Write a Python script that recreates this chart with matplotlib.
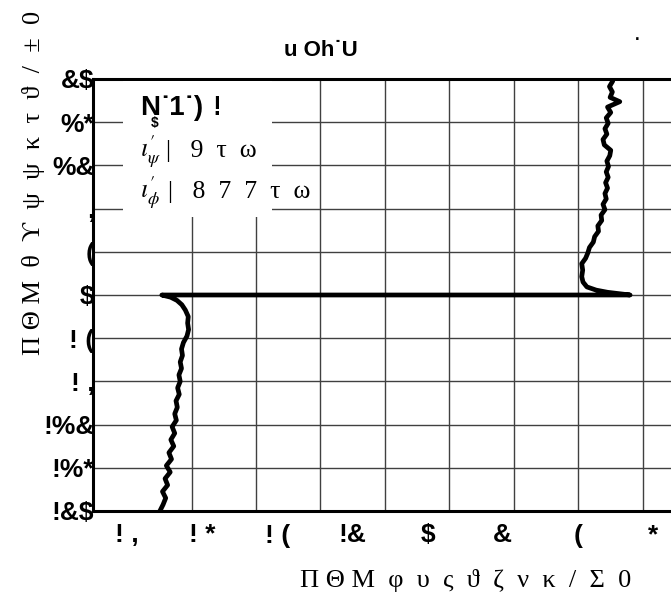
import matplotlib
matplotlib.use("Agg")
import matplotlib.pyplot as plt
from matplotlib.patches import Rectangle

W, H = 671, 595

# curve: left branch from the bottom up to y=0, then right branch from y=0 up to the top
left_y = [-20.0, -19.4, -18.8, -18.2, -17.6, -17.0, -16.4, -15.8, -15.2, -14.6,
          -14.0, -13.4, -12.8, -12.2, -11.6, -11.0, -10.4, -9.8, -9.2, -8.6,
          -8.0, -7.4, -6.8, -6.2, -5.6, -5.0, -4.4, -3.8, -3.2, -2.6,
          -2.0, -1.4, -0.9, -0.5, -0.2, 0.0]
left_x = [-6.98, -6.88, -6.80, -6.90, -6.74, -6.82, -6.66, -6.78, -6.62, -6.70,
          -6.55, -6.64, -6.52, -6.60, -6.47, -6.52, -6.44, -6.48, -6.38, -6.43,
          -6.35, -6.39, -6.31, -6.35, -6.28, -6.31, -6.25, -6.14, -6.09, -6.12,
          -6.10, -6.19, -6.30, -6.45, -6.65, -6.92]
right_y = [0.0, 0.25, 0.45, 0.75, 1.2, 1.7, 2.3, 2.9, 3.4, 3.9,
           4.4, 4.9, 5.4, 5.9, 6.4, 6.9, 7.4, 7.9, 8.4, 8.9,
           9.4, 9.9, 10.4, 10.9, 11.4, 11.9, 12.4, 12.9, 13.4, 13.9,
           14.4, 14.9, 15.4, 15.9, 16.4, 16.9, 17.4, 17.9, 18.3, 18.8,
           19.3, 19.8, 20.0]
right_x = [7.60, 6.90, 6.55, 6.26, 6.14, 6.10, 6.13, 6.10, 6.22, 6.29,
           6.34, 6.46, 6.50, 6.62, 6.60, 6.72, 6.70, 6.82, 6.76, 6.86,
           6.82, 6.90, 6.84, 6.92, 6.86, 6.93, 6.88, 6.97, 7.00, 6.80,
           6.76, 6.88, 6.82, 6.92, 6.86, 7.00, 6.90, 7.28, 6.98, 7.05,
           6.96, 7.06, 7.04]

x_grid = [-8, -6, -4, -2, 0, 2, 4, 6, 8]
x_tick_vals = [-8, -6, -4, -2, 0, 2, 4, 6]
x_tick_labels = ["! ,", "! *", "! (", "!&", "$", "&", "(", "*"]
y_ticks = [-20, -16, -12, -8, -4, 0, 4, 8, 12, 16, 20]
y_tick_labels = ["!&$", "!%*", "!%&", "! ,", "! (", "$", "(", ",", "%&", "%*", "&$"]

label_stretch = 1.165   # labels are spread wider than the grid

serif = ["Liberation Serif", "DejaVu Serif"]
sans = ["Liberation Sans", "DejaVu Sans"]
plt.rcParams["mathtext.fontset"] = "stix"


def px(x, y):
    return x / W, 1 - y / H


fig = plt.figure(figsize=(W / 100, H / 100), dpi=100)
ax = fig.add_axes([93 / W, 1 - 511 / H, 1 - 93 / W, (511 - 79) / H])

ax.plot(left_x + right_x, left_y + right_y, color="black", lw=3.4,
        solid_joinstyle="round", solid_capstyle="round", zorder=5)

ax.set_xlim(-8 - 34 / 32.25, -8 + (W - 127) / 32.25)
ax.set_ylim(-20, 20)

ax.set_xticks([-8 + (v + 8) * label_stretch for v in x_tick_vals])
ax.set_xticklabels(x_tick_labels)
ax.set_xticks(x_grid, minor=True)
ax.set_yticks(y_ticks)
ax.set_yticklabels(y_tick_labels)

ax.grid(False)
ax.grid(True, which="minor", axis="x", color="#404040", lw=1.0)
ax.grid(True, which="major", axis="y", color="#404040", lw=1.0)
ax.tick_params(which="both", length=0)
ax.tick_params(axis="x", pad=9)
ax.tick_params(axis="y", pad=-1)
for lab in ax.get_xticklabels() + ax.get_yticklabels():
    lab.set_fontfamily(sans)
    lab.set_fontweight("bold")
    lab.set_fontsize(19)

for side in ["left", "top", "bottom"]:
    ax.spines[side].set_linewidth(2.2)
ax.spines["right"].set_visible(False)

# legend box
ax.add_patch(Rectangle((30 / 578, (511 - 217) / 432), 149 / 578, 136 / 432,
                       transform=ax.transAxes, facecolor="white",
                       edgecolor="none", zorder=3))

fig.text(*px(140, 115), "N", fontfamily=sans, fontweight="bold", fontsize=20,
         va="baseline", zorder=6)
fig.text(*px(151, 127), "$", fontfamily=sans, fontweight="bold", fontsize=10,
         va="baseline", zorder=6)
fig.text(*px(160, 115), "˙1˙)", fontfamily=sans, fontweight="bold", fontsize=20,
         va="baseline", zorder=6)
# last glyph of the legend title is cut off
cut = Rectangle((0, 0), 219 / W, 1, transform=fig.transFigure,
                facecolor="none", edgecolor="none")
fig.add_artist(cut)
bang = fig.text(*px(212, 115), "!", fontfamily=sans, fontweight="bold",
                fontsize=20, va="baseline", zorder=6)
bang.set_clip_path(cut)

fig.text(*px(140, 157), r"$\iota^{\prime}_{\psi}$", fontsize=18.5,
         va="baseline", zorder=6)
fig.text(*px(166, 157), "|   9  τ  ω", fontfamily=serif, fontsize=18.5,
         va="baseline", zorder=6)
fig.text(*px(140, 198), r"$\iota^{\prime}_{\phi}$", fontsize=18.5,
         va="baseline", zorder=6)
fig.text(*px(168, 198), "|   8  7  7  τ  ω", fontfamily=serif, fontsize=18.5,
         va="baseline", zorder=6)

# title, axis labels
fig.text(*px(321, 50), "u Oh˙U", fontfamily=sans, fontweight="bold",
         fontsize=16, ha="center", va="center")
fig.text(*px(637, 36), ".", fontfamily=sans, fontweight="bold", fontsize=12,
         ha="center", va="center")
fig.text(*px(466, 580), "Π Θ Μ  φ  υ  ς  ϑ  ζ  ν  κ  /  Σ  0", fontfamily=serif,
         fontsize=19, ha="center", va="center")
fig.text(*px(34, 183), "Π Θ Μ  θ  ϒ  ψ  ψ  κ  τ  ϑ  /  ±  0", fontfamily=serif,
         fontsize=19, ha="center", va="center", rotation=90)

fig.savefig("out.png", dpi=100)
